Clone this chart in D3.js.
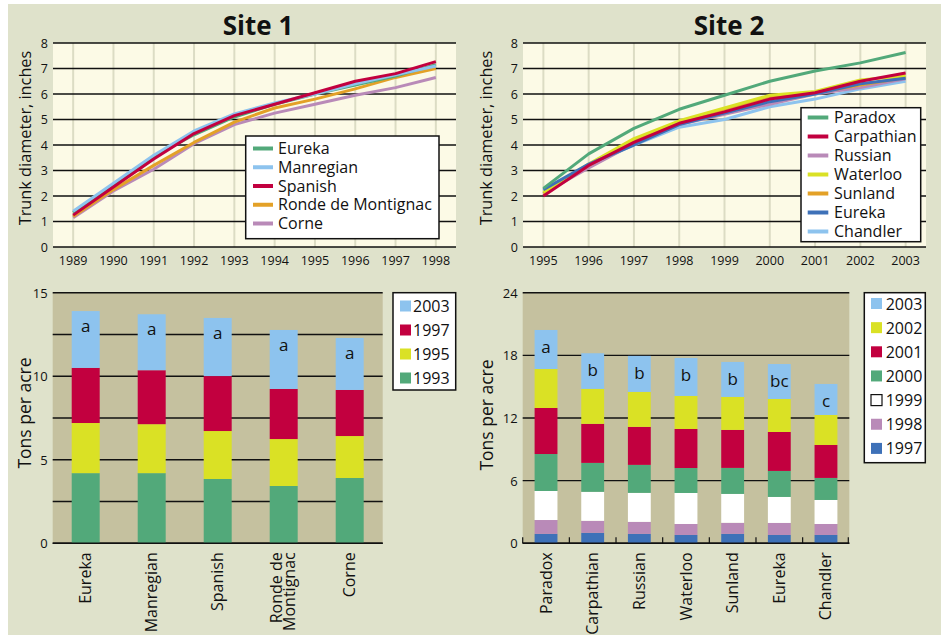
<!DOCTYPE html>
<html>
<head>
<meta charset="utf-8">
<script src="https://cdn.jsdelivr.net/npm/d3@7.9.0/dist/d3.min.js"></script>
<style>
  body { margin: 0; background: #ffffff; }
  svg { display: block; font-family: "Open Sans", sans-serif; }
</style>
</head>
<body>
<script>
// Site 1 trunk diameter (inches)
const site1Years = [1989, 1990, 1991, 1992, 1993, 1994, 1995, 1996, 1997, 1998];
const site1Names = ["Eureka", "Manregian", "Spanish", "Ronde de Montignac", "Corne"];
const site1Eureka = [1.35, 2.45, 3.55, 4.4, 5.1, 5.6, 6.0, 6.35, 6.7, 7.15];
const site1Manregian = [1.4, 2.5, 3.6, 4.55, 5.22, 5.65, 6.0, 6.4, 6.75, 7.1];
const site1Spanish = [1.25, 2.35, 3.45, 4.45, 5.15, 5.6, 6.05, 6.5, 6.8, 7.27];
const site1Ronde = [1.2, 2.25, 3.2, 4.1, 4.9, 5.45, 5.8, 6.2, 6.65, 7.0];
const site1Corne = [1.15, 2.2, 3.05, 4.05, 4.8, 5.25, 5.6, 5.95, 6.25, 6.65];

// Site 2 trunk diameter (inches)
const site2Years = [1995, 1996, 1997, 1998, 1999, 2000, 2001, 2002, 2003];
const site2Names = ["Paradox", "Carpathian", "Russian", "Waterloo", "Sunland", "Eureka", "Chandler"];
const site2Paradox = [2.3, 3.65, 4.65, 5.4, 5.95, 6.5, 6.9, 7.22, 7.63];
const site2Carpathian = [2.0, 3.2, 4.1, 4.85, 5.3, 5.8, 6.05, 6.5, 6.82];
const site2Russian = [2.1, 3.1, 4.05, 4.8, 5.2, 5.6, 6.0, 6.25, 6.6];
const site2Waterloo = [2.15, 3.25, 4.25, 4.95, 5.45, 5.95, 6.1, 6.55, 6.72];
const site2Sunland = [2.1, 3.2, 4.15, 4.9, 5.35, 5.9, 6.05, 6.35, 6.65];
const site2Eureka = [2.25, 3.25, 4.0, 4.8, 5.25, 5.7, 6.0, 6.4, 6.62];
const site2Chandler = [2.2, 3.2, 4.0, 4.7, 5.0, 5.5, 5.8, 6.2, 6.5];

// Site 1 yield (tons per acre), stacked by year
const yield1Cultivars = ["Eureka", "Manregian", "Spanish", "Ronde de Montignac", "Corne"];
const yield1Years = ["1993", "1995", "1997", "2003"];
const yield1_1993 = [4.2, 4.2, 3.85, 3.43, 3.91];
const yield1_1995 = [3.0, 2.93, 2.87, 2.81, 2.51];
const yield1_1997 = [3.3, 3.23, 3.29, 3.0, 2.76];
const yield1_2003 = [3.4, 3.35, 3.48, 3.53, 3.11];
const yield1Letters = ["a", "a", "a", "a", "a"];

// Site 2 yield (tons per acre), stacked by year
const yield2Cultivars = ["Paradox", "Carpathian", "Russian", "Waterloo", "Sunland", "Eureka", "Chandler"];
const yield2Years = ["1997", "1998", "1999", "2000", "2001", "2002", "2003"];
const yield2_1997 = [0.9, 1.0, 0.9, 0.8, 0.9, 0.8, 0.8];
const yield2_1998 = [1.33, 1.15, 1.15, 1.05, 1.06, 1.15, 1.05];
const yield2_1999 = [2.78, 2.78, 2.78, 2.97, 2.77, 2.49, 2.3];
const yield2_2000 = [3.54, 2.77, 2.68, 2.39, 2.49, 2.49, 2.11];
const yield2_2001 = [4.41, 3.74, 3.64, 3.74, 3.64, 3.73, 3.16];
const yield2_2002 = [3.73, 3.35, 3.35, 3.16, 3.16, 3.16, 2.87];
const yield2_2003 = [3.74, 3.41, 3.45, 3.64, 3.35, 3.35, 2.97];
const yield2Letters = ["a", "b", "b", "b", "b", "bc", "c"];

const green = "#52a97a", lightBlue = "#8dc3ee", crimson = "#c2003f", orange = "#e3a127",
      mauve = "#b98ab8", yellow = "#dae125", blue = "#3e71b8";

const svg = d3.select("body").append("svg").attr("width", 945).attr("height", 637);
svg.append("rect").attr("x", 8).attr("y", 4).attr("width", 933).attr("height", 631).attr("fill", "#dfe2cb");

function lineChart(o) {
  const g = svg.append("g");
  const x = d3.scaleLinear().domain(o.xDomain).range([o.left, o.right]);
  const y = d3.scaleLinear().domain([0, 8]).range([o.bottom, o.top]);

  g.append("rect").attr("x", o.left).attr("y", o.top)
    .attr("width", o.right - o.left).attr("height", o.bottom - o.top).attr("fill", "#fcfae6");

  g.selectAll(".vgrid").data(o.years).join("line")
    .attr("x1", d => x(d)).attr("x2", d => x(d))
    .attr("y1", o.top).attr("y2", o.bottom)
    .attr("stroke", "#dcdcc4").attr("stroke-width", 2);

  g.selectAll(".hgrid").data(d3.range(0, 9)).join("line")
    .attr("x1", o.left).attr("x2", o.right)
    .attr("y1", d => y(d)).attr("y2", d => y(d))
    .attr("stroke", "#111").attr("stroke-width", 1.4);

  g.selectAll(".ylab").data(d3.range(0, 9)).join("text")
    .attr("x", o.left - 5).attr("y", d => y(d) + 4.5)
    .attr("text-anchor", "end").attr("font-size", 12.5).attr("fill", "#111")
    .text(d => d);

  g.selectAll(".xlab").data(o.years).join("text")
    .attr("x", d => x(d)).attr("y", o.bottom + 18)
    .attr("text-anchor", "middle").attr("font-size", 12.5).attr("fill", "#111")
    .text(d => d);

  const line = d3.line().x((d, i) => x(o.years[i])).y(d => y(d));
  o.drawOrder.forEach(i => {
    g.append("path").datum(o.series[i]).attr("d", line)
      .attr("fill", "none").attr("stroke", o.colors[i]).attr("stroke-width", 3)
      .attr("stroke-linejoin", "round");
  });

  svg.append("text").attr("x", o.titleX).attr("y", 35).attr("text-anchor", "middle")
    .attr("font-size", 26).attr("font-weight", "bold").attr("fill", "#111").text(o.title);

  svg.append("text").attr("transform", `translate(${o.yLabelX},${o.yLabelY}) rotate(-90)`)
    .attr("text-anchor", "middle").attr("font-size", 16.3).attr("fill", "#111")
    .text("Trunk diameter, inches");

  const lg = o.legend;
  g.append("rect").attr("x", lg.x).attr("y", lg.y).attr("width", lg.w).attr("height", lg.h)
    .attr("fill", "#fff").attr("stroke", "#111").attr("stroke-width", 1.5);
  o.names.forEach((n, i) => {
    const cy = lg.row0 + i * lg.step;
    g.append("line").attr("x1", lg.sx0).attr("x2", lg.sx1).attr("y1", cy).attr("y2", cy)
      .attr("stroke", o.colors[i]).attr("stroke-width", 4);
    g.append("text").attr("x", lg.tx).attr("y", cy + 5.5).attr("font-size", 16)
      .attr("fill", "#111").text(n);
  });
}

function stackChart(o) {
  const g = svg.append("g");
  const x = d3.scaleBand().domain(o.cultivars).range([o.left, o.right])
    .paddingInner(o.pad).paddingOuter(o.pad / 2);
  const y = d3.scaleLinear().domain([0, o.max]).range([o.bottom, o.top]);

  g.append("rect").attr("x", o.left).attr("y", o.top)
    .attr("width", o.right - o.left).attr("height", o.bottom - o.top).attr("fill", "#c5c19f");

  g.selectAll(".hgrid").data(d3.range(0, o.max + 0.001, o.gridStep)).join("line")
    .attr("x1", o.left).attr("x2", o.right)
    .attr("y1", d => y(d)).attr("y2", d => y(d))
    .attr("stroke", "#111").attr("stroke-width", 1.4);

  g.selectAll(".ylab").data(o.ticks).join("text")
    .attr("x", o.left - 5).attr("y", d => y(d) + 5)
    .attr("text-anchor", "end").attr("font-size", 13).attr("fill", "#111")
    .text(d => d);

  const table = o.cultivars.map((c, i) => {
    const row = { cultivar: c };
    o.years.forEach((yr, k) => { row[yr] = o.values[k][i]; });
    return row;
  });
  const stacked = d3.stack().keys(o.years)(table);

  stacked.forEach((layer, k) => {
    g.selectAll(null).data(layer).join("rect")
      .attr("x", d => x(d.data.cultivar)).attr("width", x.bandwidth())
      .attr("y", d => y(d[1])).attr("height", d => y(d[0]) - y(d[1]))
      .attr("fill", o.colors[k]);
  });

  const top = stacked[stacked.length - 1];
  g.selectAll(".letter").data(top).join("text")
    .attr("x", d => x(d.data.cultivar) + x.bandwidth() / 2)
    .attr("y", d => y(d[1]) + o.letterDy)
    .attr("text-anchor", "middle").attr("font-size", 17).attr("fill", "#111")
    .text((d, i) => o.letters[i]);

  g.append("line").attr("x1", o.left).attr("x2", o.right).attr("y1", o.bottom).attr("y2", o.bottom)
    .attr("stroke", "#111").attr("stroke-width", 1.6);

  if (o.boundaryTicks) {
    const edges = o.cultivars.map(c => x(c) - x.step() * o.pad / 2).concat([o.right - 1]);
    g.selectAll(".btick").data(edges).join("line")
      .attr("x1", d => d).attr("x2", d => d).attr("y1", o.bottom).attr("y2", o.bottom - 6)
      .attr("stroke", "#111").attr("stroke-width", 1.2);
  }

  o.cultivars.forEach(c => {
    const lines = c === "Ronde de Montignac" ? ["Ronde de", "Montignac"] : [c];
    const cx = x(c) + x.bandwidth() / 2;
    const t = g.append("text")
      .attr("transform", `translate(${cx},${o.bottom + 9}) rotate(-90)`)
      .attr("text-anchor", "end").attr("font-size", 16).attr("fill", "#111");
    lines.forEach((l, j) => {
      t.append("tspan").attr("x", 0)
        .attr("y", lines.length === 1 ? 5.5 : (j === 0 ? -2 : 11))
        .text(l);
    });
  });

  svg.append("text").attr("transform", `translate(${o.yLabelX},${o.yLabelY}) rotate(-90)`)
    .attr("text-anchor", "middle").attr("font-size", 17.5).attr("fill", "#111")
    .text("Tons per acre");

  const lg = o.legend;
  g.append("rect").attr("x", lg.x).attr("y", lg.y).attr("width", lg.w).attr("height", lg.h)
    .attr("fill", "#fff").attr("stroke", "#111").attr("stroke-width", 1.5);
  const order = o.years.slice().reverse();
  order.forEach((yr, i) => {
    const k = o.years.indexOf(yr);
    const cy = lg.row0 + i * lg.step;
    g.append("rect").attr("x", lg.sx).attr("y", cy - 5.5).attr("width", 11).attr("height", 11)
      .attr("fill", o.colors[k])
      .attr("stroke", o.colors[k] === "#ffffff" ? "#111" : "none").attr("stroke-width", 1.2);
    g.append("text").attr("x", lg.tx).attr("y", cy + 6).attr("font-size", 16)
      .attr("fill", "#111").text(yr);
  });
}

lineChart({
  title: "Site 1", titleX: 258, yLabelX: 31, yLabelY: 138,
  left: 53, right: 456, top: 43, bottom: 247,
  xDomain: [1988.5, 1998.5], years: site1Years, names: site1Names,
  series: [site1Eureka, site1Manregian, site1Spanish, site1Ronde, site1Corne],
  colors: [green, lightBlue, crimson, orange, mauve],
  drawOrder: [4, 3, 0, 1, 2],
  legend: { x: 245.7, y: 136, w: 193.3, h: 102.7, row0: 148.5, step: 18.75, sx0: 253, sx1: 273, tx: 278 }
});

lineChart({
  title: "Site 2", titleX: 729, yLabelX: 492, yLabelY: 138,
  left: 523, right: 926, top: 43, bottom: 247,
  xDomain: [1994.55, 2003.45], years: site2Years, names: site2Names,
  series: [site2Paradox, site2Carpathian, site2Russian, site2Waterloo, site2Sunland, site2Eureka, site2Chandler],
  colors: [green, crimson, mauve, yellow, orange, blue, lightBlue],
  drawOrder: [6, 2, 4, 3, 5, 1, 0],
  legend: { x: 801, y: 107.7, w: 119.7, h: 134, row0: 117.5, step: 19, sx0: 807.7, sx1: 828.3, tx: 834 }
});

stackChart({
  left: 52.7, right: 382.7, top: 292.7, bottom: 543.3, max: 15, gridStep: 2.5, ticks: [0, 5, 10, 15],
  cultivars: yield1Cultivars, years: yield1Years,
  values: [yield1_1993, yield1_1995, yield1_1997, yield1_2003],
  colors: [green, yellow, crimson, lightBlue],
  letters: yield1Letters, letterDy: 21, pad: 0.576, boundaryTicks: false,
  yLabelX: 31, yLabelY: 413,
  legend: { x: 393, y: 292.7, w: 62.7, h: 97.3, row0: 306, step: 24, sx: 400, tx: 413 }
});

stackChart({
  left: 522.7, right: 849.3, top: 292.7, bottom: 543.3, max: 24, gridStep: 6, ticks: [0, 6, 12, 18, 24],
  cultivars: yield2Cultivars, years: yield2Years,
  values: [yield2_1997, yield2_1998, yield2_1999, yield2_2000, yield2_2001, yield2_2002, yield2_2003],
  colors: [blue, mauve, "#ffffff", green, crimson, yellow, lightBlue],
  letters: yield2Letters, letterDy: 23, pad: 0.51, boundaryTicks: true,
  yLabelX: 493, yLabelY: 415,
  legend: { x: 864.3, y: 292.7, w: 61, h: 170, row0: 303.5, step: 24.15, sx: 871, tx: 885.7 }
});
</script>
</body>
</html>
